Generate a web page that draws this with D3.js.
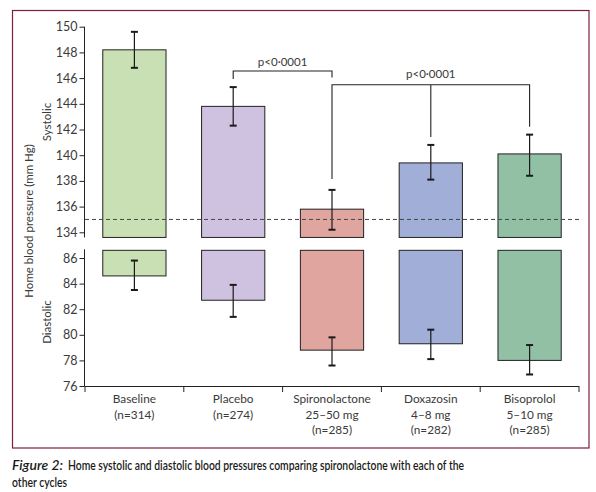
<!DOCTYPE html>
<html><head><meta charset="utf-8">
<script src="https://cdn.jsdelivr.net/npm/d3@7"></script>
<style>
body{margin:0;background:#fff;}
svg text{font-family:Lato, "Open Sans", sans-serif;fill:#3a3a3a;}
</style></head>
<body><svg id="c" width="596" height="492"></svg>
<script>
const categories = ["Baseline","Placebo","Spironolactone","Doxazosin","Bisoprolol"];
const categoryLines = [["Baseline","(n=314)"],["Placebo","(n=274)"],["Spironolactone","25–50 mg","(n=285)"],["Doxazosin","4–8 mg","(n=282)"],["Bisoprolol","5–10 mg","(n=285)"]];
const systolicMean = [148.2, 143.8, 135.8, 139.4, 140.1];
const systolicLow  = [146.8, 142.3, 134.2, 138.1, 138.4];
const systolicHigh = [149.6, 145.3, 137.3, 140.8, 141.6];
const diastolicMean = [84.6, 82.7, 78.8, 79.3, 78.0];
const diastolicLow  = [83.5, 81.4, 77.6, 78.1, 76.9];
const diastolicHigh = [85.8, 83.9, 79.8, 80.4, 79.2];
const systolicTicks = [134,136,138,140,142,144,146,148,150];
const diastolicTicks = [76,78,80,82,84,86];
const colors = ["#c8e0b4","#cfc2e0","#e0a59e","#a0aed8","#92c0a5"];
const referenceLine = 135;
const systolicBase = 133.6, diastolicTop = 86.6;

const svg = d3.select("#c");
// frame
svg.append("rect").attr("x",12.5).attr("y",10.5).attr("width",576.5).attr("height",437.5)
  .attr("fill","none").attr("stroke","#7d1d45").attr("stroke-width",1.2);

const x = d3.scaleBand().domain(categories).range([85,579]).paddingInner(0.36).paddingOuter(0.18);
const ys = d3.scaleLinear().domain([150,134]).range([26.7,232.3]);
const yd = d3.scaleLinear().domain([86,76]).range([258,386]);
const cx = c => x(c) + x.bandwidth()/2;

// axes
const axS = svg.append("g").attr("transform","translate(84.5,0)")
  .call(d3.axisLeft(ys).tickValues(systolicTicks).tickSize(5).tickPadding(2).tickSizeOuter(0));
axS.select(".domain").attr("d",`M0,${ys(150)}V${ys(systolicBase)}`);
const axD = svg.append("g").attr("transform","translate(84.5,0)")
  .call(d3.axisLeft(yd).tickValues(diastolicTicks).tickSize(5).tickPadding(2).tickSizeOuter(0));
axD.select(".domain").attr("d",`M0,${yd(diastolicTop)-1}V${yd(76)}`);
[axS,axD].forEach(a=>{
  a.selectAll("text").style("font-size","12.5px").attr("fill","#333");
  a.selectAll("line,path").attr("stroke","#222").attr("stroke-width",1);
});

// x axis
const xr = x.range();
svg.append("line").attr("x1",xr[0]-0.5).attr("x2",xr[1]).attr("y1",yd(76)+0.5).attr("y2",yd(76)+0.5).attr("stroke","#222");
const bounds = categories.map(c=>x(c)-(x.step()-x.bandwidth())/2).concat([xr[1]]);
svg.selectAll(".xt").data(bounds).join("line").attr("x1",d=>d).attr("x2",d=>d)
  .attr("y1",yd(76)).attr("y2",yd(76)+6).attr("stroke","#222");
categories.forEach((c,i)=>{
  const t = svg.append("text").attr("x",cx(c)).attr("y",403).attr("text-anchor","middle").style("font-size","11.8px");
  categoryLines[i].forEach((l,j)=>t.append("tspan").attr("x",cx(c)).attr("dy",j?15.5:0).text(l));
});

// systolic bars
svg.selectAll(".bs").data(categories).join("rect")
  .attr("x",c=>x(c)).attr("width",x.bandwidth())
  .attr("y",(c,i)=>ys(systolicMean[i])).attr("height",(c,i)=>ys(systolicBase)-ys(systolicMean[i]))
  .attr("fill",(c,i)=>colors[i]).attr("stroke","#222").attr("stroke-width",1);
// diastolic bars
svg.selectAll(".bd").data(categories).join("rect")
  .attr("x",c=>x(c)).attr("width",x.bandwidth())
  .attr("y",yd(diastolicTop)).attr("height",(c,i)=>yd(diastolicMean[i])-yd(diastolicTop))
  .attr("fill",(c,i)=>colors[i]).attr("stroke","#222").attr("stroke-width",1);

// error bars
function err(scale, lo, hi){
  categories.forEach((c,i)=>{
    const g = svg.append("g").attr("stroke","#1a1a1a");
    g.append("line").attr("x1",cx(c)).attr("x2",cx(c)).attr("y1",scale(lo[i])).attr("y2",scale(hi[i])).attr("stroke-width",1.2);
    [lo[i],hi[i]].forEach(v=>g.append("line").attr("x1",cx(c)-3.5).attr("x2",cx(c)+3.5)
      .attr("y1",scale(v)).attr("y2",scale(v)).attr("stroke-width",2));
  });
}
err(ys, systolicLow, systolicHigh);
err(yd, diastolicLow, diastolicHigh);

// dashed reference line
svg.append("line").attr("x1",85).attr("x2",580).attr("y1",ys(referenceLine)).attr("y2",ys(referenceLine))
  .attr("stroke","#444").attr("stroke-width",1).attr("stroke-dasharray","4,3");

// significance brackets
const b1y = 71, b2y = 84.7;
const p = d3.path();
p.moveTo(cx("Placebo"), ys(systolicHigh[1])-8); p.lineTo(cx("Placebo"), b1y); p.lineTo(cx("Spironolactone"), b1y); p.lineTo(cx("Spironolactone"), b1y+6.5);
p.moveTo(cx("Spironolactone"), ys(systolicHigh[2])-11); p.lineTo(cx("Spironolactone"), b2y); p.lineTo(cx("Bisoprolol"), b2y); p.lineTo(cx("Bisoprolol"), ys(systolicHigh[4])-8);
p.moveTo(cx("Doxazosin"), b2y); p.lineTo(cx("Doxazosin"), ys(systolicHigh[3])-8);
svg.append("path").attr("d",p.toString()).attr("fill","none").attr("stroke","#222").attr("stroke-width",1.1);
svg.append("text").attr("x",(cx("Placebo")+cx("Spironolactone"))/2).attr("y",66).attr("text-anchor","middle").style("font-size","11.5px").text("p<0·0001");
svg.append("text").attr("x",cx("Doxazosin")).attr("y",78).attr("text-anchor","middle").style("font-size","11.5px").text("p<0·0001");

// axis titles
svg.append("text").attr("transform","translate(33,221) rotate(-90)").attr("text-anchor","middle").style("font-size","11.5px").text("Home blood pressure (mm Hg)");
svg.append("text").attr("transform","translate(51,122) rotate(-90)").attr("text-anchor","middle").style("font-size","11.5px").text("Systolic");
svg.append("text").attr("transform","translate(51,322) rotate(-90)").attr("text-anchor","middle").style("font-size","11.5px").text("Diastolic");

// caption
const capStyle = t => t.style("font-size","12.8px").style("font-weight","600").style("fill","#1a1a1a").attr("lengthAdjust","spacingAndGlyphs");
capStyle(svg.append("text").attr("x",12).attr("y",470).attr("textLength",51).style("font-style","italic").text("Figure 2:"));
capStyle(svg.append("text").attr("x",68).attr("y",470).attr("textLength",396).text("Home systolic and diastolic blood pressures comparing spironolactone with each of the"));
capStyle(svg.append("text").attr("x",12).attr("y",486.5).attr("textLength",55).text("other cycles"));
</script></body></html>
